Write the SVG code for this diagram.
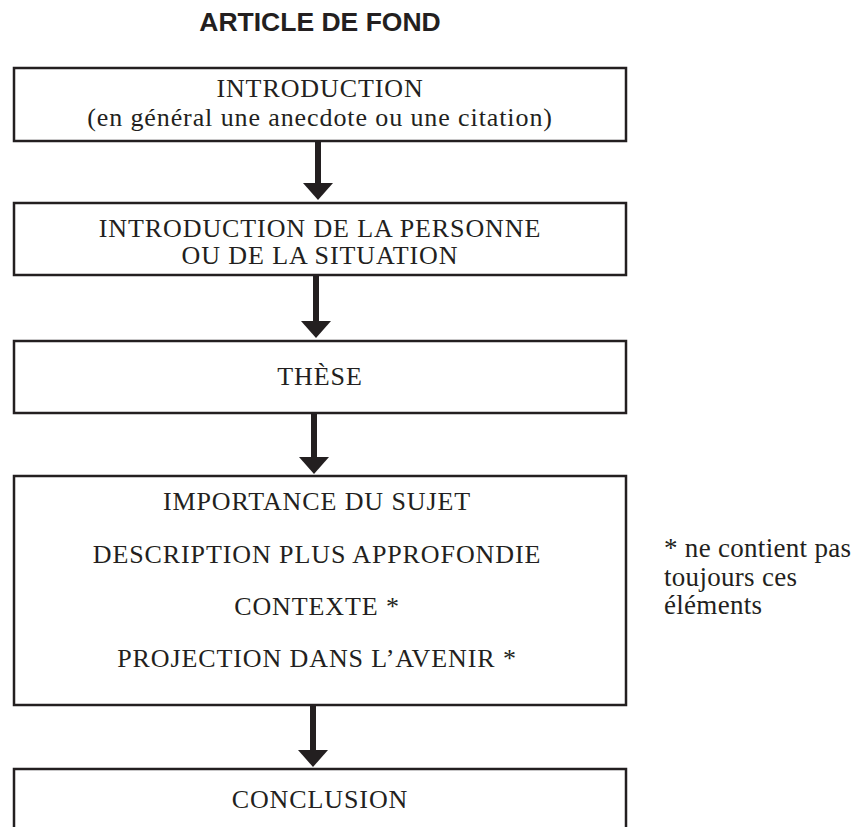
<svg xmlns="http://www.w3.org/2000/svg" width="856" height="827" viewBox="0 0 856 827">
<style>
.box{fill:#fff;stroke:#231f20;stroke-width:2.5}
.t{font-family:"Liberation Serif","Times New Roman",serif;font-size:26px;letter-spacing:0.9px;fill:#231f20;text-anchor:middle}
.note{font-family:"Liberation Serif","Times New Roman",serif;font-size:27px;letter-spacing:0.3px;fill:#231f20}
.title{font-family:"Liberation Sans",Arial,sans-serif;font-size:26.5px;font-weight:bold;fill:#231f20;text-anchor:middle}
.conn{stroke:#231f20;stroke-width:6;fill:none;marker-end:url(#ah)}
</style>
<defs>
<marker id="ah" viewBox="0 0 17 30" refX="0" refY="15" markerWidth="17" markerHeight="30" markerUnits="userSpaceOnUse" orient="auto">
<path d="M0,0 L17,15 L0,30 Z" fill="#231f20"/>
</marker>
</defs>
<rect width="856" height="827" fill="#fff"/>
<text class="title" x="320" y="31">ARTICLE DE FOND</text>
<g id="connectors">
<line class="conn" x1="318" y1="142" x2="318" y2="183"/>
<line class="conn" x1="316" y1="276" x2="316" y2="321"/>
<line class="conn" x1="314" y1="414" x2="314" y2="457"/>
<line class="conn" x1="313" y1="706" x2="313" y2="750"/>
</g>
<g id="n1">
<rect class="box" x="14" y="68" width="612" height="73"/>
<text class="t" x="320" y="97">INTRODUCTION</text>
<text class="t" x="320" y="126">(en général une anecdote ou une citation)</text>
</g>
<g id="n2">
<rect class="box" x="14" y="203" width="612" height="72"/>
<text class="t" x="320" y="237">INTRODUCTION DE LA PERSONNE</text>
<text class="t" x="320" y="264">OU DE LA SITUATION</text>
</g>
<g id="n3">
<rect class="box" x="14" y="341" width="612" height="72"/>
<text class="t" x="320" y="385">THÈSE</text>
</g>
<g id="n4">
<rect class="box" x="14" y="476" width="612" height="229"/>
<text class="t" x="317" y="510">IMPORTANCE DU SUJET</text>
<text class="t" x="317" y="563">DESCRIPTION PLUS APPROFONDIE</text>
<text class="t" x="317" y="615">CONTEXTE *</text>
<text class="t" x="317" y="667">PROJECTION DANS L’AVENIR *</text>
</g>
<g id="n5">
<rect class="box" x="14" y="769" width="612" height="80"/>
<text class="t" x="320" y="808">CONCLUSION</text>
</g>
<g id="note">
<text class="note" x="664" y="557">* ne contient pas</text>
<text class="note" x="664" y="586">toujours ces</text>
<text class="note" x="664" y="614">éléments</text>
</g>
</svg>
